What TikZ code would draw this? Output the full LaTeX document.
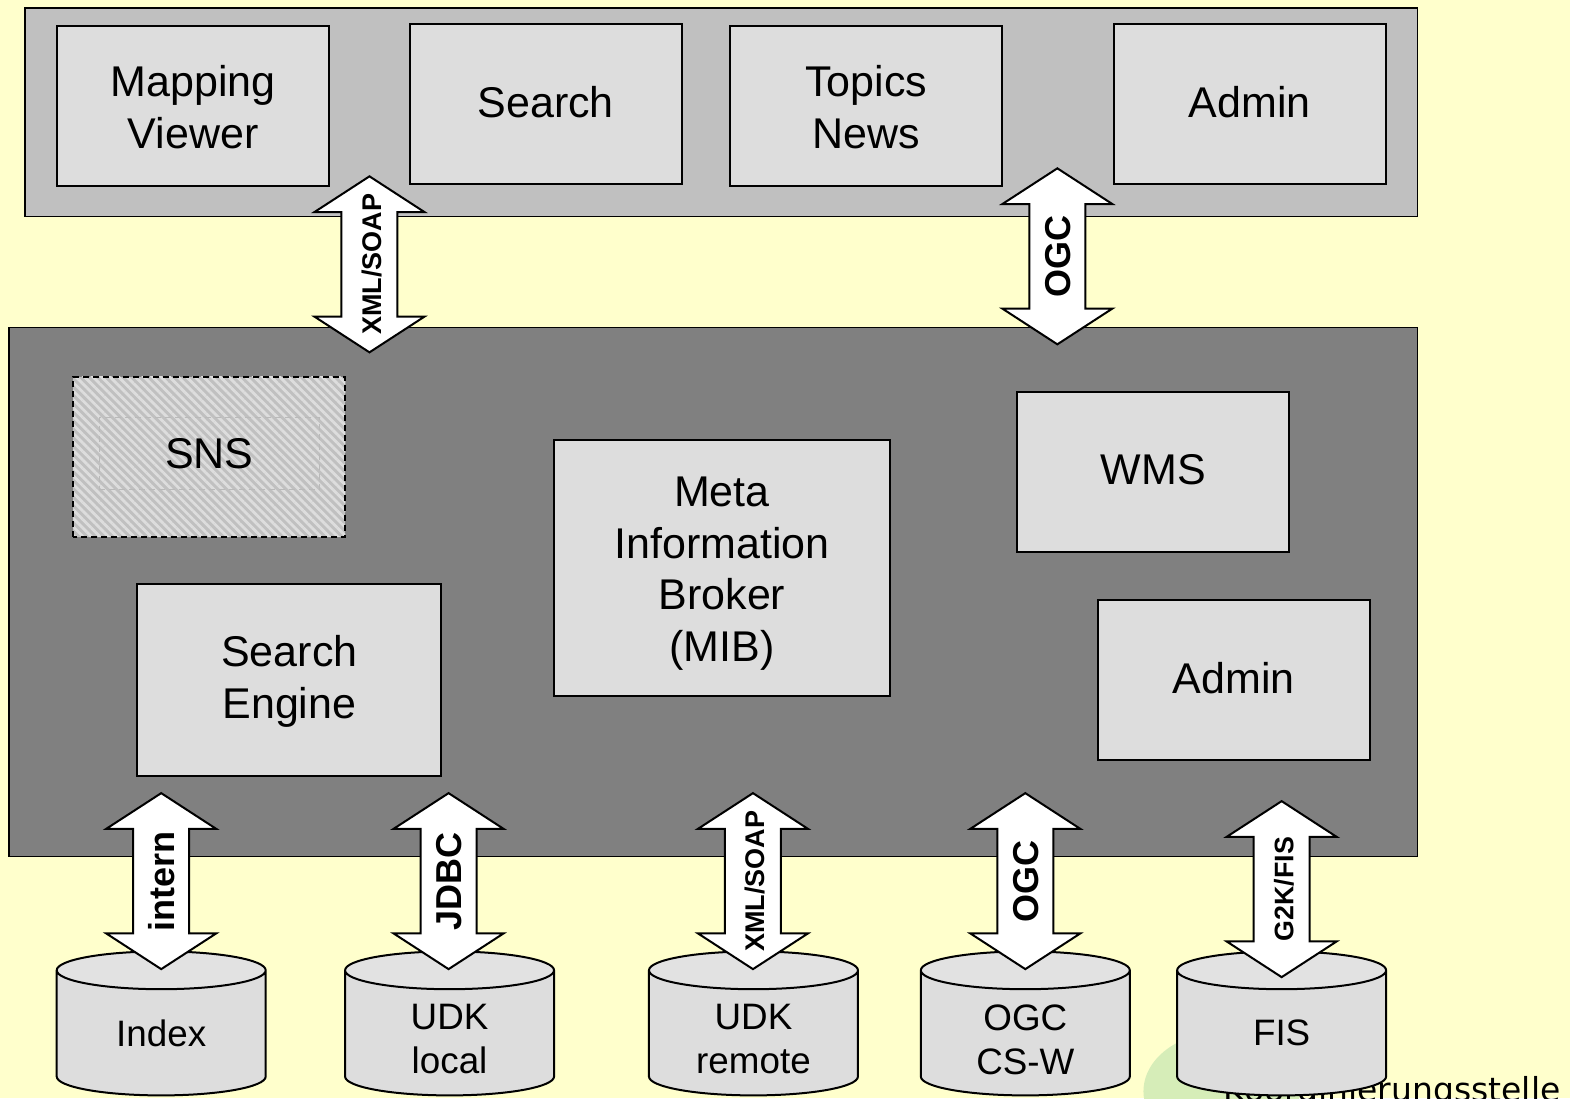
\documentclass[tikz,border=0pt]{standalone}
\usepackage{fontspec}
\setmainfont{Liberation Sans}
\newfontfamily\logofont{DejaVu Sans}
\usetikzlibrary{shapes.geometric,shapes.arrows,patterns.meta}
\definecolor{pagebg}{HTML}{FFFFCC}
\definecolor{toppanel}{HTML}{C0C0C0}
\definecolor{lowpanel}{HTML}{808080}
\definecolor{boxfill}{HTML}{DDDDDD}
\definecolor{blobgreen}{HTML}{D6EDB8}
\newcommand{\pushdown}[1]{\rule{0pt}{#1pt}}
\newcommand{\protolabel}[1]{\makebox[40pt]{#1}}
\tikzset{
    panel/.style={draw,line width=0.6pt},
    compbox/.style={draw,line width=1pt,fill=boxfill,minimum width=136pt,minimum height=80pt,
        inner sep=0pt,outer sep=0pt,align=center,font=\fontsize{21.5}{25.75}\selectfont},
    store/.style={cylinder,shape border rotate=90,draw,line width=1pt,aspect=0.42,anchor=bottom,
        cylinder uses custom fill,cylinder body fill=boxfill,cylinder end fill=boxfill!85!white,
        minimum width=104.5pt,minimum height=72pt,inner sep=0pt,text width=45pt},
    storelabel/.style={inner sep=0pt,align=center,font=\fontsize{18.4}{22}\selectfont},
    proto/.style={double arrow,draw,line width=1pt,fill=white,rotate=90,inner xsep=0pt,inner ysep=0pt,
        minimum height=88pt,minimum width=54pt,double arrow head extend=13.5pt,
        double arrow tip angle=114},
    protobig/.style={proto,font=\bfseries\fontsize{18}{18}\selectfont,text height=20pt,text depth=7pt},
    protosmall/.style={proto,font=\bfseries\fontsize{13.5}{14}\selectfont,text height=19.35pt,text depth=7.65pt},
    prototiny/.style={proto,font=\bfseries\fontsize{13.4}{14}\selectfont,text height=19.3pt,text depth=7.7pt}
}
\begin{document}
\begin{tikzpicture}[x=0.50064pt,y=-0.50064pt]
    \fill[pagebg] (0,0) rectangle (1568,1097);
    \useasboundingbox (0,0) rectangle (1568,1097);
    \clip (0,0) rectangle (1568,1097);
    \fill[blobgreen] (1220,1090) ellipse (78 and 59);
    \node[anchor=base west,inner sep=0pt,font=\logofont\fontsize{16.5}{18}\selectfont] (coordtext) at (1222,1100) {Koordinierungsstelle};
    \filldraw[panel,fill=toppanel] (25,8) rectangle (1416,216);
    \filldraw[panel,fill=lowpanel] (9,327) rectangle (1416,855);

    \node[compbox] (viewer) at (193,106) {\pushdown{16.5}Mapping\\Viewer};
    \node[compbox,text depth=2pt] (search) at (545,104) {Search};
    \node[compbox] (topics) at (865,106) {\pushdown{16.5}Topics\\News};
    \node[compbox,text depth=2pt] (admintop) at (1248,104) {Admin};

    \node[compbox,draw=none,fill=none,preaction={fill=toppanel},pattern={Lines[angle=-45,distance=3pt,line width=1.4pt]},pattern color=boxfill] (snsbg) at (209,456) {};
    \draw[line width=1pt,densely dashed] (snsbg.south west) rectangle (snsbg.north east);
    \node[draw=gray!55,densely dashed,line width=0.3pt,minimum width=110pt,minimum height=36pt,inner sep=0pt,font=\fontsize{21.5}{25.75}\selectfont] (sns) at (209,453) {SNS};

    \node[compbox,minimum width=168pt,minimum height=128pt] (mib) at (721,567) {\pushdown{20.5}Meta\\Information\\Broker\\(MIB)};
    \node[compbox,text depth=2pt] (wms) at (1152,471) {WMS};
    \node[compbox,text depth=2pt] (adminlow) at (1232,679) {Admin};
    \node[compbox,minimum width=152pt,minimum height=96pt] (engine) at (289,679) {\pushdown{17}Search\\Engine};

    \node[store] (index) at (161,1095) {};
    \node[store] (udklocal) at (449,1095) {};
    \node[store] (udkremote) at (752.5,1095) {};
    \node[store] (ogccsw) at (1024,1095) {};
    \node[store] (fis) at (1280,1095) {};
    \node[storelabel] (indextext) at (161,1032) {Index};
    \node[storelabel] (udklocaltext) at (449,1038) {UDK\\local};
    \node[storelabel] (udkremotetext) at (752.5,1038) {UDK\\remote};
    \node[storelabel] (ogccswtext) at (1024,1038) {OGC\\CS-W};
    \node[storelabel] (fistext) at (1280,1032) {FIS};

    \node[protosmall] (xmltop) at (369,264) {\protolabel{XML/SOAP}};
    \node[protobig] (ogctop) at (1056,256) {\protolabel{OGC}};
    \node[protobig] (intern) at (161,880) {\protolabel{intern}};
    \node[protobig] (jdbc) at (448,880) {\protolabel{JDBC}};
    \node[protosmall] (xmllow) at (752,880) {\protolabel{XML/SOAP}};
    \node[protobig] (ogclow) at (1024,880) {\protolabel{OGC}};
    \node[prototiny] (g2k) at (1280,888) {\protolabel{G2K/FIS}};
\end{tikzpicture}
\end{document}
